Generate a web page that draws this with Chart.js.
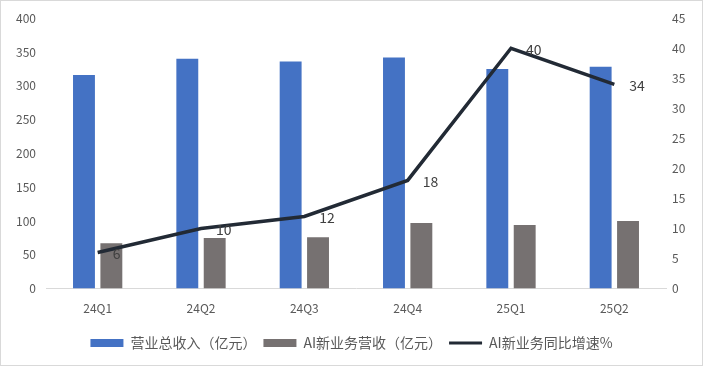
<!DOCTYPE html>
<html>
<head>
<meta charset="utf-8">
<script src="https://cdn.jsdelivr.net/npm/chart.js@4.4.1/dist/chart.umd.min.js"></script>
<style>
  html, body { margin: 0; padding: 0; background: #fff; }
  #wrap { width: 703px; height: 366px; box-sizing: border-box; border: 1px solid #d9d9d9; }
  #wrap canvas { display: block; }
</style>
</head>
<body>
<div id="wrap"><canvas id="chart" width="701" height="364"></canvas></div>
<script>
/* ─── Data ───────────────────── */
const quarters = ['24Q1', '24Q2', '24Q3', '24Q4', '25Q1', '25Q2'];
const totalRevenue = [316, 340, 336, 342, 325, 328];   // 营业总收入（亿元）
const aiRevenue = [67, 75, 76, 97, 94, 100];           // AI新业务营收（亿元）
const aiGrowth = [6, 10, 12, 18, 40, 34];              // AI新业务同比增速%

const FONT = "'Noto Sans CJK SC', 'Noto Sans', sans-serif";
Chart.defaults.font.family = FONT;
Chart.defaults.color = '#595959';

/* ─── Line value labels ───────────────────── */
const lineLabels = {
  id: 'lineLabels',
  afterDatasetsDraw(chart) {
    const meta = chart.getDatasetMeta(0);
    const ctx = chart.ctx;
    ctx.save();
    ctx.font = `14px ${FONT}`;
    ctx.fillStyle = '#404040';
    ctx.textAlign = 'left';
    ctx.textBaseline = 'middle';
    meta.data.forEach((pt, i) => {
      ctx.fillText(String(aiGrowth[i]), pt.x + 15, pt.y + 1);
    });
    ctx.restore();
  }
};

new Chart(document.getElementById('chart'), {
  data: {
    labels: quarters,
    datasets: [
      {
        type: 'line',
        label: 'AI新业务同比增速%',
        data: aiGrowth,
        yAxisID: 'y1',
        borderColor: '#222a35',
        borderWidth: 3.5,
        pointRadius: 0,
        tension: 0,
        order: 0
      },
      {
        type: 'bar',
        label: '营业总收入（亿元）',
        data: totalRevenue,
        yAxisID: 'y',
        backgroundColor: '#4472c4',
        categoryPercentage: 0.53,
        barPercentage: 0.8,
        order: 1
      },
      {
        type: 'bar',
        label: 'AI新业务营收（亿元）',
        data: aiRevenue,
        yAxisID: 'y',
        backgroundColor: '#767171',
        categoryPercentage: 0.53,
        barPercentage: 0.8,
        order: 1
      }
    ]
  },
  options: {
    responsive: false,
    animation: false,
    layout: { padding: { top: 17, right: 0, bottom: 5, left: 0 } },
    plugins: {
      tooltip: { enabled: false },
      legend: {
        position: 'bottom',
        labels: {
          usePointStyle: true,
          pointStyleWidth: 33,
          boxHeight: 8,
          padding: 7,
          color: '#595959',
          font: { size: 14 },
          generateLabels(chart) {
            const ds = chart.data.datasets;
            return [1, 2, 0].map(i => ({
              text: ds[i].label,
              datasetIndex: i,
              fillStyle: i === 0 ? '#222a35' : ds[i].backgroundColor,
              strokeStyle: i === 0 ? '#222a35' : ds[i].backgroundColor,
              lineWidth: i === 0 ? 3 : 0,
              pointStyle: i === 0 ? 'line' : 'rect',
              fontColor: '#595959',
              hidden: false
            }));
          }
        }
      }
    },
    scales: {
      x: {
        grid: { display: false, drawTicks: false },
        border: { color: '#d9d9d9' },
        ticks: { padding: 13, font: { size: 12 }, color: '#595959' }
      },
      y: {
        position: 'left',
        min: 0, max: 400,
        grid: { display: false, drawTicks: false },
        border: { display: false },
        ticks: { stepSize: 50, padding: 10, font: { size: 12 }, color: '#595959' },
        afterFit(scale) { scale.width = 45; }
      },
      y1: {
        position: 'right',
        min: 0, max: 45,
        grid: { display: false, drawTicks: false },
        border: { display: false },
        ticks: { stepSize: 5, padding: 6, font: { size: 12 }, color: '#595959' },
        afterFit(scale) { scale.width = 36; }
      }
    }
  },
  plugins: [lineLabels]
});
</script>
</body>
</html>
